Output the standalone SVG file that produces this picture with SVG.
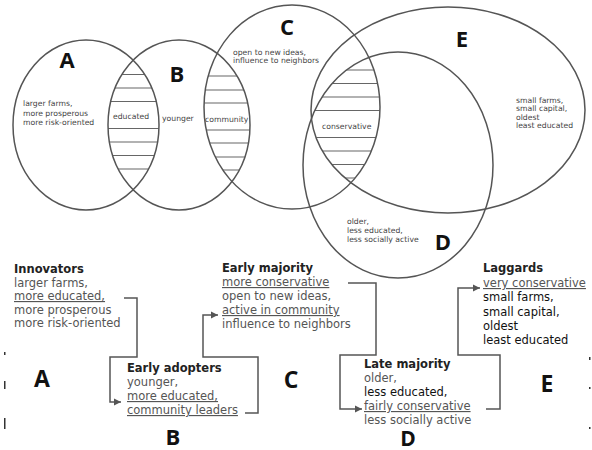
<svg xmlns="http://www.w3.org/2000/svg" width="592" height="450" viewBox="0 0 592 450">
<style>
.ring{fill:none;stroke:#555;stroke-width:1.5}
.hatch{stroke:#666;stroke-width:1.2}
.big{font-family:"Open Sans","DejaVu Sans",sans-serif;font-weight:bold;fill:#111;text-anchor:middle}
.tiny{font-family:"DejaVu Sans",sans-serif;font-size:7.7px;fill:#444}
.t{font-family:"DejaVu Sans",sans-serif;font-size:11.5px;fill:#555}
.d{fill:#111}
.h{font-weight:bold;fill:#222}
.u{text-decoration:underline}
.conn{fill:none;stroke:#555;stroke-width:1.5}
</style>
<defs>
<marker id="arr" markerWidth="8" markerHeight="8" refX="7" refY="4" orient="auto" markerUnits="userSpaceOnUse">
<path d="M0,0.5 L7,4 L0,7.5 Z" fill="#555"/>
</marker>
<clipPath id="cA"><ellipse cx="86" cy="125" rx="73" ry="85"/></clipPath>
<clipPath id="cB"><ellipse cx="179" cy="125" rx="71" ry="85"/></clipPath>
<clipPath id="cC"><ellipse cx="292" cy="107" rx="88" ry="102"/></clipPath>
<clipPath id="cD"><ellipse cx="398" cy="165" rx="95" ry="113"/></clipPath>
<clipPath id="cE"><ellipse cx="448" cy="110" rx="137" ry="103"/></clipPath>
</defs>
<rect width="592" height="450" fill="#fff"/>

<g id="hatching">
<g clip-path="url(#cA)"><g clip-path="url(#cB)">
<path class="hatch" d="M100,74.5H170M100,88H170M100,101.5H170M100,128.5H170M100,142H170M100,155.5H170M100,169H170"/>
</g></g>
<g clip-path="url(#cB)"><g clip-path="url(#cC)">
<path class="hatch" d="M195,76H260M195,90H260M195,103H260M195,130H260M195,143H260M195,157H260M195,170H260"/>
</g></g>
<g clip-path="url(#cC)"><g clip-path="url(#cD)"><g clip-path="url(#cE)">
<path class="hatch" d="M300,70H390M300,83.5H390M300,97H390M300,110.5H390M300,137.5H390M300,151H390M300,164.5H390M300,178H390"/>
</g></g></g>
</g>

<g id="set-A">
<ellipse class="ring" cx="86" cy="125" rx="73" ry="85"/>
<text class="big" x="67" y="68" font-size="22">A</text>
<text class="tiny" x="23" y="106">larger farms,</text>
<text class="tiny" x="23" y="115.5">more prosperous</text>
<text class="tiny" x="23" y="125">more risk-oriented</text>
</g>
<g id="set-B">
<ellipse class="ring" cx="179" cy="125" rx="71" ry="85"/>
<text class="big" x="177" y="82" font-size="22">B</text>
<text class="tiny" x="162" y="120.5">younger</text>
</g>
<g id="set-C">
<ellipse class="ring" cx="292" cy="107" rx="88" ry="102"/>
<text class="big" x="287" y="35" font-size="22">C</text>
<text class="tiny" x="233" y="55">open to new ideas,</text>
<text class="tiny" x="233" y="63">influence to neighbors</text>
</g>
<g id="set-E">
<ellipse class="ring" cx="448" cy="110" rx="137" ry="103"/>
<text class="big" x="462" y="47" font-size="22">E</text>
<text class="tiny" x="516" y="103">small farms,</text>
<text class="tiny" x="516" y="111">small capital,</text>
<text class="tiny" x="516" y="119.5">oldest</text>
<text class="tiny" x="516" y="128">least educated</text>
</g>
<g id="set-D">
<ellipse class="ring" cx="398" cy="165" rx="95" ry="113"/>
<text class="big" x="443" y="250" font-size="22">D</text>
<text class="tiny" x="347" y="224">older,</text>
<text class="tiny" x="347" y="233">less educated,</text>
<text class="tiny" x="347" y="242">less socially active</text>
</g>
<g id="overlap-labels">
<text class="tiny" x="113" y="119">educated</text>
<text class="tiny" x="205" y="122">community</text>
<text class="tiny" x="322" y="128.5">conservative</text>
</g>

<g id="connectors">
<path class="conn" d="M124,298 H137 V357 H110 V402 H121" marker-end="url(#arr)"/>
<path class="conn" d="M245,413 H258 V357 H203 V315 H218" marker-end="url(#arr)"/>
<path class="conn" d="M348,283 H376 V355 H340 V409 H362" marker-end="url(#arr)"/>
<path class="conn" d="M486,409 H500 V355 H458 V288 H480" marker-end="url(#arr)"/>
</g>

<g id="innovators">
<text class="t h" x="14" y="273">Innovators</text>
<text class="t" x="14" y="286.5">larger farms,</text>
<text class="t u" x="14" y="300">more educated,</text>
<text class="t" x="14" y="313.5">more prosperous</text>
<text class="t" x="14" y="327">more risk-oriented</text>
<text class="big" x="42" y="387" font-size="23">A</text>
</g>
<g id="early-adopters">
<text class="t h" x="127" y="372">Early adopters</text>
<text class="t" x="127" y="386">younger,</text>
<text class="t u" x="127" y="400">more educated,</text>
<text class="t u" x="127" y="414">community leaders</text>
<text class="big" x="173" y="445" font-size="22">B</text>
</g>
<g id="early-majority">
<text class="t h" x="222" y="272">Early majority</text>
<text class="t u" x="222" y="286">more conservative</text>
<text class="t" x="222" y="300">open to new ideas,</text>
<text class="t u" x="222" y="314">active in community</text>
<text class="t" x="222" y="328">influence to neighbors</text>
<text class="big" x="291" y="388" font-size="23">C</text>
</g>
<g id="late-majority">
<text class="t h" x="364" y="368">Late majority</text>
<text class="t" x="364" y="382">older,</text>
<text class="t d" x="364" y="396">less educated,</text>
<text class="t u" x="364" y="410">fairly conservative</text>
<text class="t" x="364" y="424">less socially active</text>
<text class="big" x="408" y="446" font-size="21">D</text>
</g>
<g id="laggards">
<text class="t h" x="483" y="272">Laggards</text>
<text class="t u" x="483" y="287">very conservative</text>
<text class="t d" x="483" y="301">small farms,</text>
<text class="t d" x="483" y="315.5">small capital,</text>
<text class="t d" x="483" y="330">oldest</text>
<text class="t d" x="483" y="344">least educated</text>
<text class="big" x="547" y="392" font-size="23">E</text>
</g>
<g id="edge-marks" fill="#333">
<rect x="4" y="352" width="1.5" height="3"/>
<rect x="4" y="381" width="1.5" height="8"/>
<rect x="4" y="418" width="1.5" height="11"/>
<rect x="589" y="357" width="1.5" height="3"/>
<rect x="589" y="387" width="1.5" height="2"/>
<rect x="589" y="427" width="1.5" height="2"/>
</g>
</svg>
